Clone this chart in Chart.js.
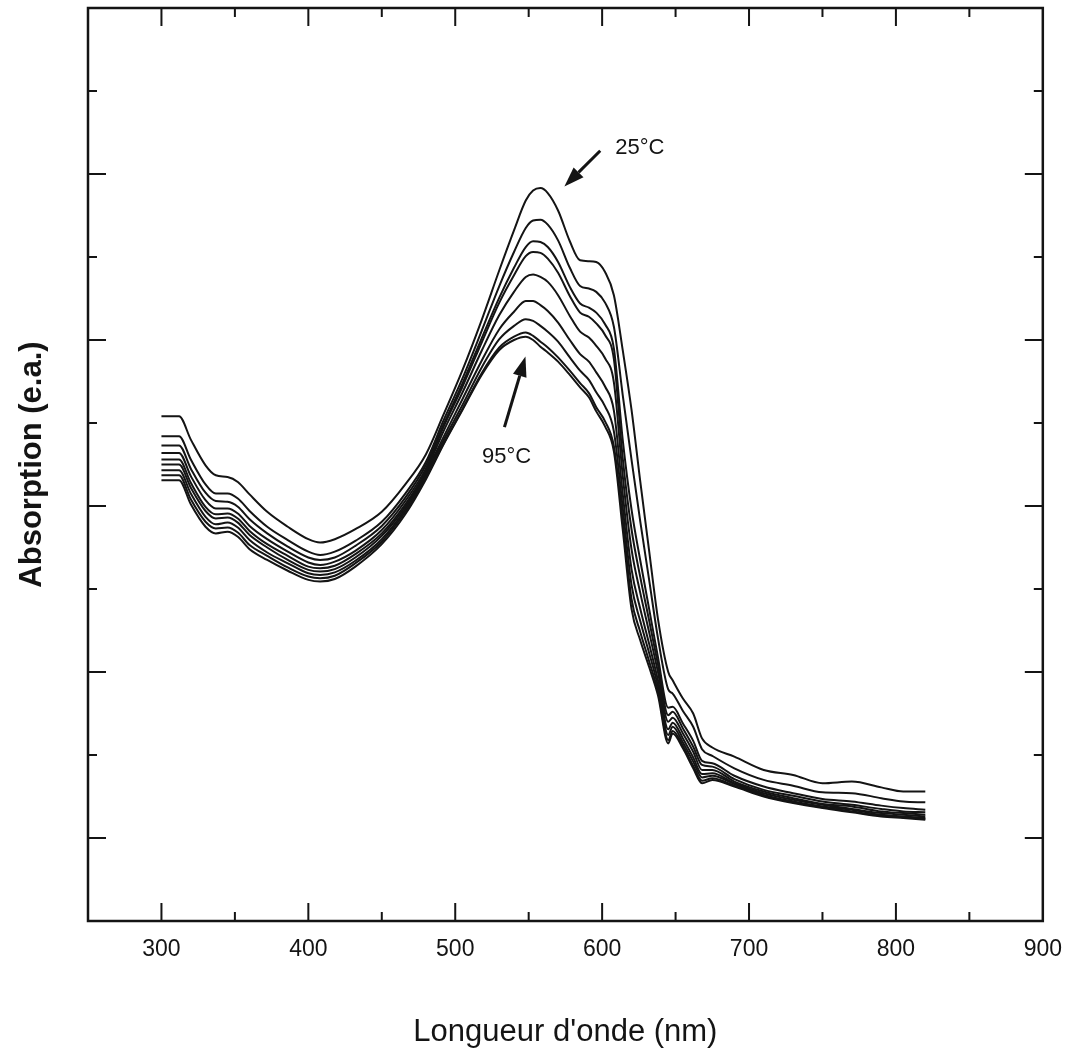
<!DOCTYPE html>
<html lang="fr">
<head>
<meta charset="UTF-8">
<title>Absorption</title>
<script src="https://cdn.jsdelivr.net/npm/chart.js"></script>
<style>
  body { margin: 0; background: #ffffff; }
  canvas { display: block; }
</style>
</head>
<body>
<canvas id="spectra" width="1077" height="1063"></canvas>
<script>
// wavelengths (nm) shared by every curve
const wavelengths = [300, 312, 320, 330, 337, 345, 352, 360, 372, 386, 400, 408, 418, 432, 450, 466, 480,
    492, 505, 518, 530, 540, 548, 553, 558, 563, 570, 578, 585, 591, 596, 602, 608,
    614, 620, 626, 632, 638, 645, 648, 655, 662, 668, 675,
    690, 710, 730, 750, 770, 790, 805, 820];

// absorption (arbitrary units), 25°C curve first, 95°C curve last
const curve25 = [5.08, 5.08, 4.80, 4.49, 4.37, 4.35, 4.29, 4.14, 3.93, 3.75, 3.60, 3.56, 3.60, 3.72, 3.93, 4.26, 4.62,
    5.10, 5.64, 6.24, 6.84, 7.32, 7.68, 7.80, 7.83, 7.77, 7.56, 7.19, 6.96, 6.95, 6.94, 6.82, 6.54,
    5.88, 5.16, 4.29, 3.46, 2.64, 2.00, 1.90, 1.68, 1.50, 1.20, 1.09,
    0.98, 0.82, 0.76, 0.66, 0.68, 0.61, 0.56, 0.56];
const curveB = [4.84, 4.84, 4.56, 4.26, 4.15, 4.15, 4.09, 3.94, 3.75, 3.59, 3.45, 3.41, 3.45, 3.58, 3.81, 4.15, 4.53,
    5.03, 5.54, 6.11, 6.65, 7.06, 7.35, 7.44, 7.45, 7.39, 7.20, 6.87, 6.65, 6.62, 6.58, 6.45, 6.16,
    5.34, 4.56, 3.81, 3.11, 2.41, 1.79, 1.74, 1.53, 1.34, 1.07, 0.99,
    0.84, 0.70, 0.63, 0.55, 0.54, 0.48, 0.44, 0.43];
const curveC = [4.73, 4.73, 4.45, 4.16, 4.06, 4.05, 3.99, 3.84, 3.67, 3.51, 3.38, 3.35, 3.38, 3.52, 3.76, 4.10, 4.49,
    4.98, 5.48, 6.02, 6.51, 6.87, 7.12, 7.19, 7.18, 7.12, 6.94, 6.64, 6.44, 6.39, 6.33, 6.19, 5.90,
    4.80, 3.96, 3.34, 2.76, 2.18, 1.57, 1.58, 1.38, 1.17, 0.93, 0.90,
    0.75, 0.62, 0.54, 0.47, 0.44, 0.39, 0.36, 0.34];
const curveD = [4.64, 4.64, 4.36, 4.07, 3.97, 3.97, 3.91, 3.76, 3.60, 3.45, 3.32, 3.29, 3.33, 3.46, 3.71, 4.06, 4.45,
    4.95, 5.44, 5.97, 6.45, 6.78, 7.01, 7.06, 7.05, 6.98, 6.81, 6.53, 6.33, 6.28, 6.20, 6.06, 5.77,
    4.58, 3.72, 3.14, 2.62, 2.09, 1.48, 1.52, 1.32, 1.10, 0.88, 0.86,
    0.71, 0.58, 0.51, 0.44, 0.40, 0.35, 0.32, 0.31];
const curveE = [4.56, 4.56, 4.28, 3.99, 3.90, 3.91, 3.85, 3.70, 3.54, 3.40, 3.27, 3.25, 3.28, 3.42, 3.67, 4.02, 4.42,
    4.90, 5.37, 5.87, 6.30, 6.58, 6.76, 6.79, 6.76, 6.70, 6.54, 6.29, 6.10, 6.03, 5.93, 5.78, 5.49,
    4.37, 3.48, 2.95, 2.48, 2.00, 1.40, 1.45, 1.26, 1.04, 0.82, 0.82,
    0.68, 0.56, 0.48, 0.41, 0.38, 0.32, 0.30, 0.28];
const curveF = [4.50, 4.50, 4.22, 3.94, 3.85, 3.86, 3.80, 3.65, 3.50, 3.35, 3.23, 3.21, 3.24, 3.38, 3.64, 3.99, 4.40,
    4.83, 5.29, 5.75, 6.13, 6.34, 6.47, 6.47, 6.42, 6.35, 6.21, 6.00, 5.83, 5.74, 5.61, 5.44, 5.15,
    4.15, 3.24, 2.76, 2.34, 1.90, 1.31, 1.39, 1.20, 0.97, 0.77, 0.78,
    0.66, 0.54, 0.46, 0.40, 0.35, 0.30, 0.28, 0.26];
const curveG = [4.43, 4.43, 4.15, 3.87, 3.78, 3.80, 3.74, 3.59, 3.44, 3.31, 3.19, 3.17, 3.20, 3.34, 3.60, 3.96, 4.37,
    4.79, 5.22, 5.67, 6.01, 6.17, 6.25, 6.23, 6.17, 6.10, 5.98, 5.79, 5.63, 5.52, 5.37, 5.20, 4.90,
    3.98, 3.05, 2.61, 2.23, 1.83, 1.24, 1.34, 1.15, 0.92, 0.73, 0.75,
    0.65, 0.52, 0.44, 0.38, 0.34, 0.28, 0.26, 0.24];
const curveH = [4.37, 4.37, 4.08, 3.81, 3.73, 3.74, 3.68, 3.53, 3.40, 3.26, 3.15, 3.13, 3.16, 3.31, 3.57, 3.93, 4.34,
    4.75, 5.17, 5.60, 5.91, 6.04, 6.09, 6.05, 5.98, 5.91, 5.79, 5.63, 5.48, 5.36, 5.19, 5.02, 4.72,
    3.83, 2.88, 2.48, 2.13, 1.77, 1.18, 1.29, 1.11, 0.87, 0.69, 0.72,
    0.63, 0.51, 0.43, 0.37, 0.32, 0.27, 0.25, 0.23];
const curve95 = [4.31, 4.31, 4.02, 3.75, 3.67, 3.69, 3.63, 3.48, 3.35, 3.22, 3.11, 3.09, 3.12, 3.27, 3.54, 3.90, 4.32,
    4.74, 5.16, 5.58, 5.88, 6.00, 6.04, 6.00, 5.92, 5.85, 5.74, 5.58, 5.43, 5.31, 5.14, 4.96, 4.66,
    3.72, 2.76, 2.38, 2.06, 1.72, 1.14, 1.26, 1.08, 0.84, 0.66, 0.70,
    0.62, 0.50, 0.42, 0.36, 0.31, 0.26, 0.24, 0.22];

const curves = [curve25, curveB, curveC, curveD, curveE, curveF, curveG, curveH, curve95];

// axis ticks
const xLabelTicks = [300, 400, 500, 600, 700, 800, 900];
const xMarks = [300, 350, 400, 450, 500, 550, 600, 650, 700, 750, 800, 850];
const yMarks = [0, 1, 2, 3, 4, 5, 6, 7, 8, 9];

// temperature arrows, in data units: [tail, head, label]
const arrowLabels = ['25°C', '95°C'];
const arrowTails = [[598.7, 8.28], [533.5, 4.95]];
const arrowHeads = [[574.3, 7.85], [547.8, 5.80]];
const labelSpots = [[609, 8.32], [535, 4.59]];
const labelAlign = ['left', 'center'];

const ink = '#141414';
const fontFamily = "'Liberation Sans', Arial, sans-serif";

const frameAndMarks = {
    id: 'frameAndMarks',
    afterDatasetsDraw(chart) {
        const ctx = chart.ctx;
        const a = chart.chartArea;
        const x = chart.scales.x;
        const y = chart.scales.y;
        ctx.save();
        ctx.strokeStyle = ink;
        ctx.lineWidth = 2;
        ctx.beginPath();
        xMarks.forEach(v => {
            const px = x.getPixelForValue(v);
            const len = v % 100 === 0 ? 18 : 9;
            ctx.moveTo(px, a.bottom); ctx.lineTo(px, a.bottom - len);
            ctx.moveTo(px, a.top); ctx.lineTo(px, a.top + len);
        });
        yMarks.forEach(v => {
            const py = y.getPixelForValue(v);
            const len = v % 2 === 0 ? 18 : 9;
            ctx.moveTo(a.left, py); ctx.lineTo(a.left + len, py);
            ctx.moveTo(a.right, py); ctx.lineTo(a.right - len, py);
        });
        ctx.stroke();

        ctx.lineWidth = 2.5;
        ctx.strokeRect(a.left, a.top, a.right - a.left, a.bottom - a.top);

        // arrows + labels
        ctx.fillStyle = ink;
        arrowLabels.forEach((txt, i) => {
            const x0 = x.getPixelForValue(arrowTails[i][0]);
            const y0 = y.getPixelForValue(arrowTails[i][1]);
            const x1 = x.getPixelForValue(arrowHeads[i][0]);
            const y1 = y.getPixelForValue(arrowHeads[i][1]);
            const ang = Math.atan2(y1 - y0, x1 - x0);
            const head = 20, half = 7;
            const bx = x1 - head * Math.cos(ang), by = y1 - head * Math.sin(ang);
            ctx.lineWidth = 3;
            ctx.beginPath();
            ctx.moveTo(x0, y0); ctx.lineTo(bx, by);
            ctx.stroke();
            ctx.beginPath();
            ctx.moveTo(x1, y1);
            ctx.lineTo(bx + half * Math.sin(ang), by - half * Math.cos(ang));
            ctx.lineTo(bx - half * Math.sin(ang), by + half * Math.cos(ang));
            ctx.closePath();
            ctx.fill();

            ctx.font = '22px ' + fontFamily;
            ctx.textAlign = labelAlign[i];
            ctx.textBaseline = 'middle';
            ctx.fillText(txt, x.getPixelForValue(labelSpots[i][0]), y.getPixelForValue(labelSpots[i][1]));
        });
        ctx.restore();
    }
};

new Chart(document.getElementById('spectra'), {
    type: 'line',
    data: {
        datasets: curves.map((c, i) => ({
            label: 'courbe ' + (i + 1),
            data: wavelengths.map((w, j) => ({ x: w, y: c[j] })),
            borderColor: ink,
            borderWidth: 2,
            pointRadius: 0,
            fill: false,
            cubicInterpolationMode: 'monotone'
        }))
    },
    options: {
        responsive: false,
        animation: false,
        devicePixelRatio: 1,
        layout: { padding: { top: 8, right: 29, left: 0, bottom: 0 } },
        plugins: { legend: { display: false }, tooltip: { enabled: false } },
        scales: {
            x: {
                type: 'linear',
                min: 250,
                max: 900,
                grid: { display: false, drawTicks: false },
                border: { display: false },
                afterBuildTicks: s => { s.ticks = xLabelTicks.map(v => ({ value: v })); },
                ticks: {
                    autoSkip: false,
                    maxRotation: 0,
                    padding: 15,
                    color: ink,
                    font: { family: fontFamily, size: 23 }
                },
                title: {
                    display: true,
                    text: "Longueur d'onde (nm)",
                    color: ink,
                    font: { family: fontFamily, size: 31 },
                    padding: { top: 0, bottom: 12 }
                },
                afterFit: s => { s.height = 142; }
            },
            y: {
                min: -1,
                max: 10,
                grid: { display: false, drawTicks: false },
                border: { display: false },
                ticks: { display: false },
                title: {
                    display: true,
                    text: 'Absorption (e.a.)',
                    color: ink,
                    font: { family: fontFamily, size: 31, weight: 'bold' },
                    padding: { top: 14, bottom: 0 }
                },
                afterFit: s => { s.width = 88; }
            }
        }
    },
    plugins: [frameAndMarks]
});
</script>
</body>
</html>
